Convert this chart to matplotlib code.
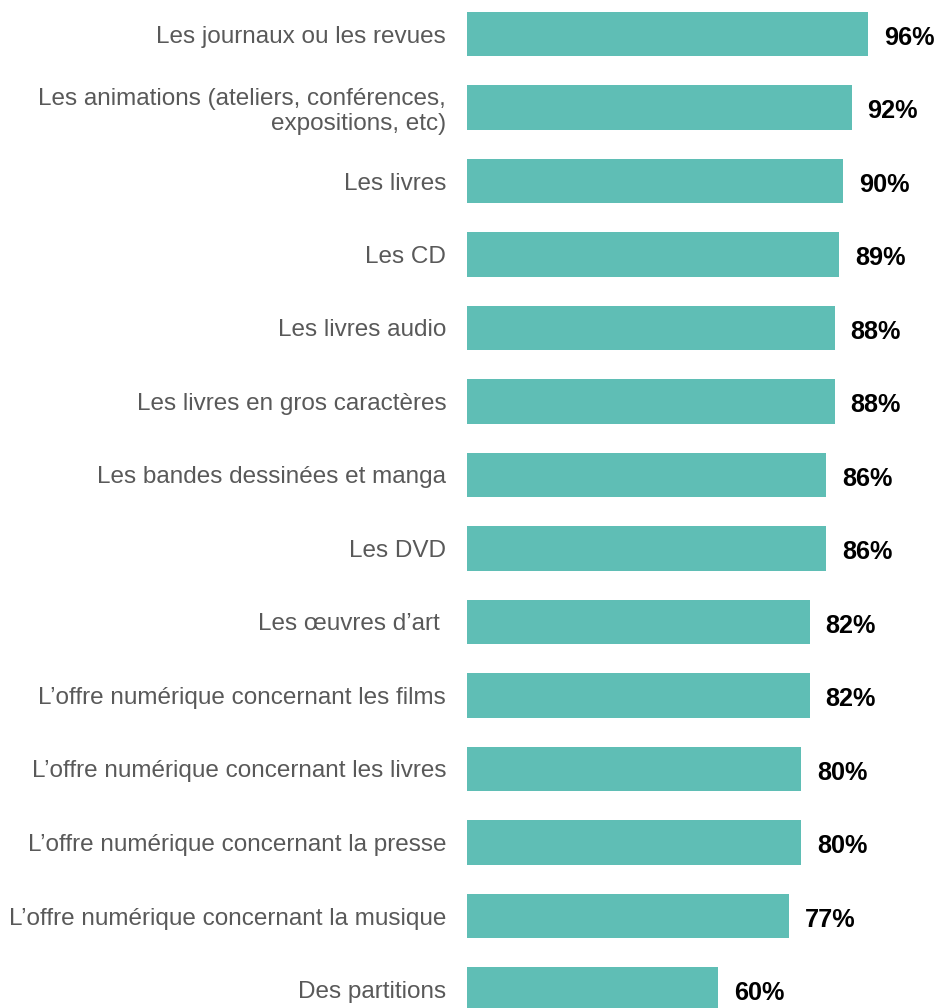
import matplotlib
matplotlib.use("Agg")
import matplotlib.pyplot as plt

categories = [
    "Les journaux ou les revues",
    "Les animations (ateliers, conférences,\nexpositions, etc)",
    "Les livres",
    "Les CD",
    "Les livres audio",
    "Les livres en gros caractères",
    "Les bandes dessinées et manga",
    "Les DVD",
    "Les œuvres d\u2019art ",
    "L\u2019offre numérique concernant les films",
    "L\u2019offre numérique concernant les livres",
    "L\u2019offre numérique concernant la presse",
    "L\u2019offre numérique concernant la musique",
    "Des partitions",
]
values = [96, 92, 90, 89, 88, 88, 86, 86, 82, 82, 80, 80, 77, 60]
value_labels = [f"{v}%" for v in values]

plt.rcParams['font.family'] = ['Liberation Sans', 'DejaVu Sans']

W, H = 939, 1008
fig = plt.figure(figsize=(W / 100, H / 100), dpi=100)
ax = fig.add_axes([467 / W, 0, 1 - 467 / W, 1])

pos = list(range(len(categories)))
ax.barh(pos, values, height=0.6, color="#5FBEB5", edgecolor="none")
for p, v, t in zip(pos, values, value_labels):
    ax.text(v + 3.8, p + 0.05, t, va="center", ha="left", fontsize=18.2,
            fontweight="bold", color="black")

ax.set_yticks(pos)
ax.set_yticklabels(categories, fontsize=17.5, color="#595959", linespacing=1.15)
ax.tick_params(axis="y", length=0, pad=15)
ax.set_xticks([])
ax.set_xlim(0, (W - 467) / 4.18)
ax.set_ylim((H - 34) / 73.5, -34 / 73.5)
for s in ax.spines.values():
    s.set_visible(False)
for lbl in ax.get_yticklabels():
    lbl.set_multialignment("right")

fig.savefig("out.png", dpi=100)
